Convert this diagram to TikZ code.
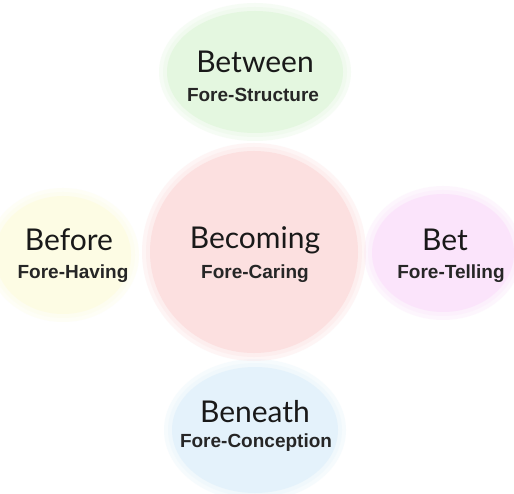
\documentclass[tikz,border=0pt]{standalone}
\usepackage{fontspec}
\setmainfont{Lato}
\newfontfamily\subfont{Liberation Sans}
\usetikzlibrary{shapes.geometric}
\definecolor{cpink}{RGB}{252,224,224}
\definecolor{cgreen}{RGB}{228,247,224}
\definecolor{cyellow}{RGB}{253,252,228}
\definecolor{cmagenta}{RGB}{251,228,251}
\definecolor{cblue}{RGB}{228,242,251}
\tikzset{
  blob/.style={ellipse, draw=none, inner sep=0pt},
  halo/.style={ellipse, draw=none, inner sep=0pt, opacity=0.3},
  title/.style={font=\fontsize{30}{33}\selectfont, text=black!90, inner sep=0pt},
  sub/.style={font=\subfont\bfseries\fontsize{19}{21}\selectfont, text=black!85, inner sep=0pt}
}
\begin{document}
\begin{tikzpicture}[x=1pt,y=-1pt]
\useasboundingbox (0,0) rectangle (514,494);
\fill[white] (0,0) rectangle (514,494);
% outer halos
\node[halo, fill=cgreen, minimum width=192pt, minimum height=138pt] (hg2) at (255,72) {};
\node[halo, fill=cyellow, minimum width=152pt, minimum height=134pt] (hy2) at (63,255) {};
\node[halo, fill=cmagenta, minimum width=158pt, minimum height=134pt] (hm2) at (443,253) {};
\node[halo, fill=cblue, minimum width=182pt, minimum height=142pt] (hb2) at (255,430) {};
\node[halo, fill=cpink, minimum width=224pt, minimum height=218pt] (hp2) at (254,252) {};
% inner halos
\node[halo, fill=cgreen, minimum width=184pt, minimum height=130pt] (hg) at (255,72) {};
\node[halo, fill=cyellow, minimum width=144pt, minimum height=126pt] (hy) at (63,255) {};
\node[halo, fill=cmagenta, minimum width=150pt, minimum height=126pt] (hm) at (443,253) {};
\node[halo, fill=cblue, minimum width=174pt, minimum height=134pt] (hb) at (255,430) {};
\node[halo, fill=cpink, minimum width=216pt, minimum height=210pt] (hp) at (254,252) {};
% blobs
\node[blob, fill=cgreen, minimum width=176pt, minimum height=122pt] (green) at (255,72) {};
\node[blob, fill=cyellow, minimum width=136pt, minimum height=118pt] (yellow) at (63,255) {};
\node[blob, fill=cmagenta, minimum width=142pt, minimum height=118pt] (magenta) at (443,253) {};
\node[blob, fill=cblue, minimum width=166pt, minimum height=126pt] (blue) at (255,430) {};
\node[blob, fill=cpink, minimum width=208pt, minimum height=202pt] (pink) at (254,252) {};
% texts
\node[title] (t1) at (255,62) {Between};
\node[sub] (s1) at (253,95) {Fore-Structure};
\node[title] (t2) at (69,240) {Before};
\node[sub] (s2) at (73,274) {Fore-Having};
\node[title] (t3) at (255,240) {Becoming};
\node[sub] (s3) at (255,274) {Fore-Caring};
\node[title] (t4) at (445,240) {Bet};
\node[sub] (s4) at (451,274) {Fore-Telling};
\node[title] (t5) at (255,412) {Beneath};
\node[sub] (s5) at (256,443) {Fore-Conception};
\end{tikzpicture}
\end{document}
